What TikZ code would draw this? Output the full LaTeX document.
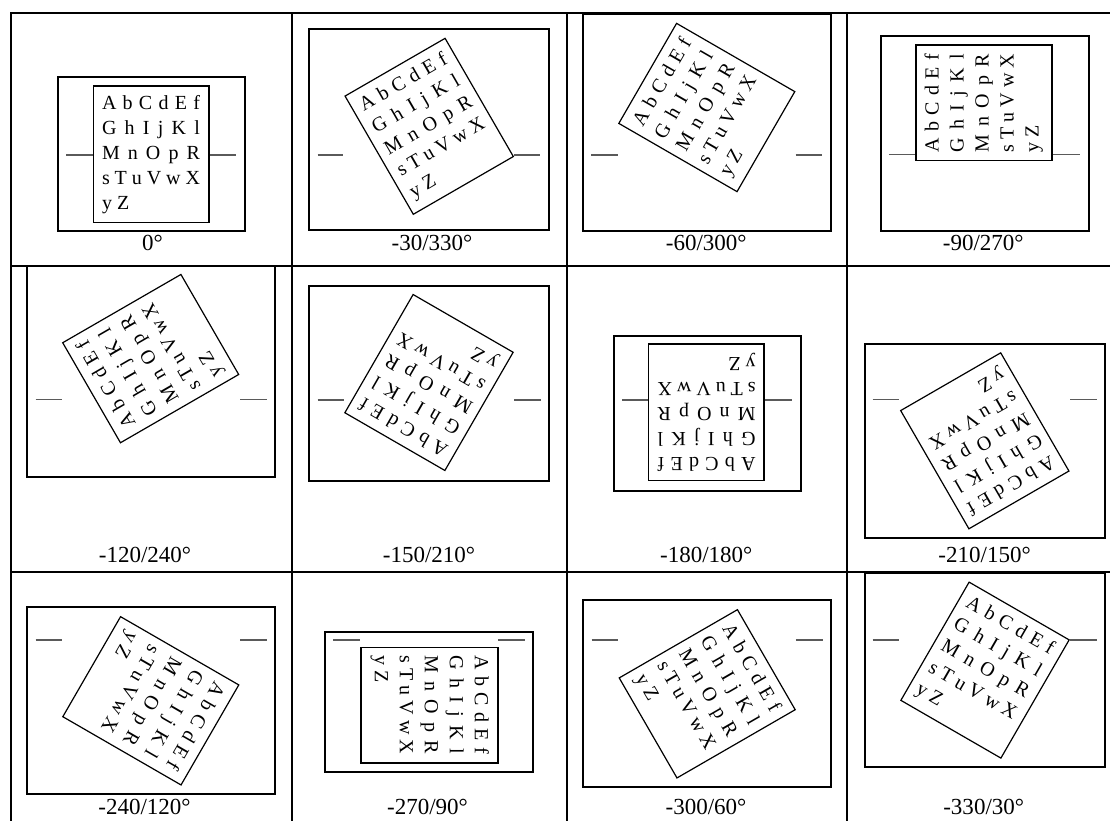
\documentclass[tikz,border=0pt]{standalone}
\usepackage{fontspec}
\setmainfont{Liberation Serif}
\usetikzlibrary{fit}
\definecolor{stubgray}{RGB}{90,90,90}
\newcommand\jline[1]{\makebox[98pt][s]{#1}}
\newcommand\lettersbox[5]{%
  \begin{scope}[shift={(#2,#3)}, rotate=#4]
    \node[#5] (#1) at (0,0) {};
    \node[letters] (#1-1) at (-49.5,-45.3) {\jline{A b C d E f}};
    \node[letters] (#1-2) at (-49.5,-20.3) {\jline{G h I j K l}};
    \node[letters] (#1-3) at (-49.5,4.7) {\jline{M n O p R}};
    \node[letters] (#1-4) at (-49.5,29.7) {\jline{s T u V w X}};
    \node[letters] (#1-5) at (-49.5,54.7) {y Z};
  \end{scope}}
\newcommand\stubpair[6]{%
  \coordinate (#1a) at (#3,#2); \coordinate (#1b) at (#4,#2);
  \coordinate (#1c) at (#5,#2); \coordinate (#1d) at (#6,#2);
  \draw[stub] (#1a) -- (#1b);
  \draw[stub] (#1c) -- (#1d);}
\newcommand\cellframe[5]{%
  \coordinate (#1nw) at (#2,#3); \coordinate (#1se) at (#4,#5);
  \node[frame, fit=(#1nw)(#1se)] (#1) {};}
\begin{document}
\begin{tikzpicture}[x=1pt,y=-1pt,
  grid/.style={line width=2pt},
  frame/.style={draw, line width=2pt, inner sep=0pt},
  boxA/.style={draw, line width=1.8pt, inner sep=0pt, minimum width=115.5pt, minimum height=136.5pt, transform shape},
  boxR/.style={draw, line width=1.2pt, inner sep=0pt, minimum width=115.5pt, minimum height=136.5pt, transform shape},
  stub/.style={draw=stubgray, line width=1.2pt},
  letters/.style={inner sep=0pt, anchor=base west, font=\fontsize{20}{24}\selectfont, transform shape},
  lab/.style={inner sep=0pt, anchor=base, font=\fontsize{23}{27}\selectfont}]
\fill[white] (0,0) rectangle (1110,820);
\useasboundingbox (0,0) rectangle (1110,820);
% grid
\draw[grid] (10,13) -- (1112,13);
\draw[grid] (10,265.5) -- (1112,265.5);
\draw[grid] (10,571.5) -- (1112,571.5);
\draw[grid] (11,12) -- (11,822);
\draw[grid] (292.3,12) -- (292.3,822);
\draw[grid] (567,12) -- (567,822);
\draw[grid] (847.3,12) -- (847.3,822);
% frames
\cellframe{f1}{57.7}{77}{245.3}{231}
\cellframe{f2}{309}{29}{549}{230}
\cellframe{f3}{582.7}{14.3}{830.7}{231.3}
\cellframe{f4}{881}{35.7}{1089.3}{231}
\cellframe{f5}{26.7}{266}{275.3}{477}
\cellframe{f6}{309}{286}{549}{480.7}
\cellframe{f7}{614}{336}{800.7}{490.7}
\cellframe{f8}{865}{344}{1105.3}{538.3}
\cellframe{f9}{26.7}{607.3}{275.3}{794}
\cellframe{f10}{325}{631.7}{533.3}{772.3}
\cellframe{f11}{582.8}{600}{831.2}{787}
\cellframe{f12}{865}{572.7}{1105.3}{766.7}
% stubs
\stubpair{s1}{155}{66}{93.7}{209}{236}
\stubpair{s2}{155}{317.7}{343.3}{514.3}{540}
\stubpair{s3}{155}{591}{618.3}{795.7}{822.3}
\stubpair{s4}{154.5}{889}{915.7}{1052.3}{1080}
\stubpair{s5}{399.5}{35.7}{62.3}{240}{266.7}
\stubpair{s6}{400}{317.7}{344}{514.3}{540.7}
\stubpair{s7}{400}{622.3}{648.7}{764}{791.7}
\stubpair{s8}{399.5}{872.7}{899.3}{1070}{1096.7}
\stubpair{s9}{640}{35.7}{62.3}{240}{266.7}
\stubpair{s10}{640}{333.3}{360}{498.3}{525}
\stubpair{s11}{640}{591.6}{617.9}{795.8}{822.5}
\stubpair{s12}{640}{872.7}{899.3}{1070}{1096.7}
% rotated letter boxes
\lettersbox{b1}{151.3}{154.3}{0}{boxA}
\lettersbox{b2}{429.2}{126.3}{30}{boxR}
\lettersbox{b3}{706.8}{107.5}{60}{boxR}
\lettersbox{b4}{984}{102.7}{90}{boxA}
\lettersbox{b5}{150.7}{358.6}{120}{boxR}
\lettersbox{b6}{429}{382.5}{150}{boxR}
\lettersbox{b7}{706.3}{412.3}{180}{boxA}
\lettersbox{b8}{984.8}{440.8}{210}{boxR}
\lettersbox{b9}{150.8}{700.8}{240}{boxR}
\lettersbox{b10}{429.5}{705.2}{270}{boxA}
\lettersbox{b11}{707.2}{693.8}{300}{boxR}
\lettersbox{b12}{985}{670.1}{330}{boxR}
% labels
\node[lab] (l1) at (152.5,250) {0°};
\node[lab] (l2) at (432,250) {-30/330°};
\node[lab] (l3) at (706.3,250) {-60/300°};
\node[lab] (l4) at (983.3,250) {-90/270°};
\node[lab] (l5) at (145,562) {-120/240°};
\node[lab] (l6) at (429,562) {-150/210°};
\node[lab] (l7) at (706.3,562) {-180/180°};
\node[lab] (l8) at (984.6,562) {-210/150°};
\node[lab] (l9) at (144.5,814) {-240/120°};
\node[lab] (l10) at (427.5,814) {-270/90°};
\node[lab] (l11) at (706,814) {-300/60°};
\node[lab] (l12) at (983.7,814) {-330/30°};
\end{tikzpicture}
\end{document}
